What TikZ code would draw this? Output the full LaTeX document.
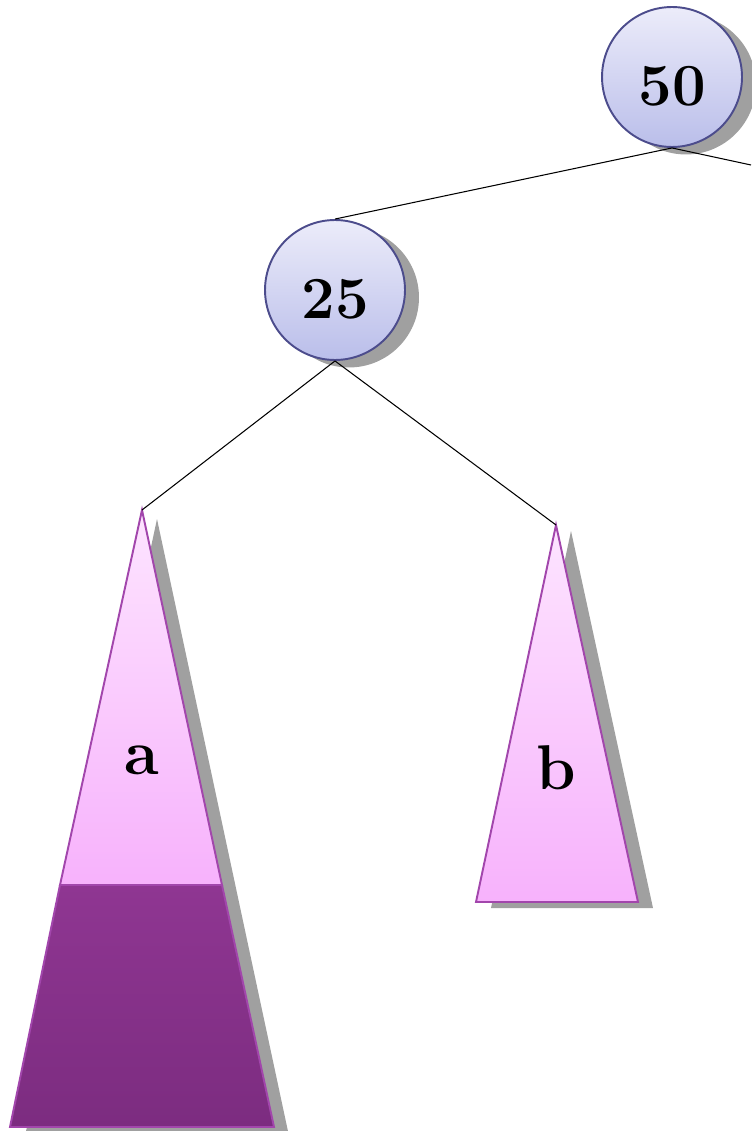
\documentclass[tikz,border=0pt]{standalone}
\usepackage{tikz}
\usetikzlibrary{shadows}
\definecolor{keyB}{RGB}{76,76,140}
\definecolor{keyTop}{RGB}{236,236,250}
\definecolor{keyBot}{RGB}{186,190,234}
\definecolor{subP}{RGB}{162,70,172}
\definecolor{subTop}{RGB}{253,228,255}
\definecolor{subBot}{RGB}{247,178,252}
\definecolor{cutTop}{RGB}{143,54,146}
\definecolor{cutBot}{RGB}{124,44,128}
\definecolor{shad}{RGB}{160,160,160}

\begin{document}
\begin{tikzpicture}[x=0.02cm,y=-0.02cm,
  keynode/.style={circle,draw=keyB,line width=1.1pt,minimum size=2.8cm,inner sep=0pt,
    top color=keyTop,bottom color=keyBot,text height=1.15cm,text depth=0pt,
    font=\fontsize{34}{36}\selectfont\bfseries,
    drop shadow={shadow xshift=0.28cm,shadow yshift=-0.15cm,fill=shad,opacity=1}},
  sublabel/.style={font=\fontsize{36}{38}\selectfont\bfseries},
  subtree/.style={draw=subP,line width=1.1pt,top color=subTop,bottom color=subBot},
  edge/.style={black,line width=0.6pt}]
\useasboundingbox (0,0) rectangle (751,1131);
% keys
\node[keynode] (n50) at (672,77) {50};
\node[keynode] (n25) at (335,290) {25};
% shadows of the subtrees
\fill[shad] (157,519)--(289,1136)--(25,1136)--cycle;
\fill[shad] (571,531)--(653,908)--(491,908)--cycle;
% subtree a, with its lower part
\fill[top color=cutTop,bottom color=cutBot,draw=subP,line width=1.1pt]
  (60,885)--(222,885)--(274,1127)--(10,1127)--cycle;
\path[subtree] (142,510)--(222,885)--(60,885)--cycle;
\coordinate (aTop) at (142,510);
\node[sublabel] (aLab) at (142,760) {a};
% subtree b
\path[subtree] (556,525)--(638,902)--(476,902)--cycle;
\coordinate (bTop) at (556,525);
\node[sublabel] (bLab) at (556,768) {b};
% links
\coordinate (offR) at (751,165);
\draw[edge] (n50.south) -- (n25.north);
\draw[edge] (n50.south) -- (offR);
\draw[edge] (n25.south) -- (aTop);
\draw[edge] (n25.south) -- (bTop);
\end{tikzpicture}
\end{document}
